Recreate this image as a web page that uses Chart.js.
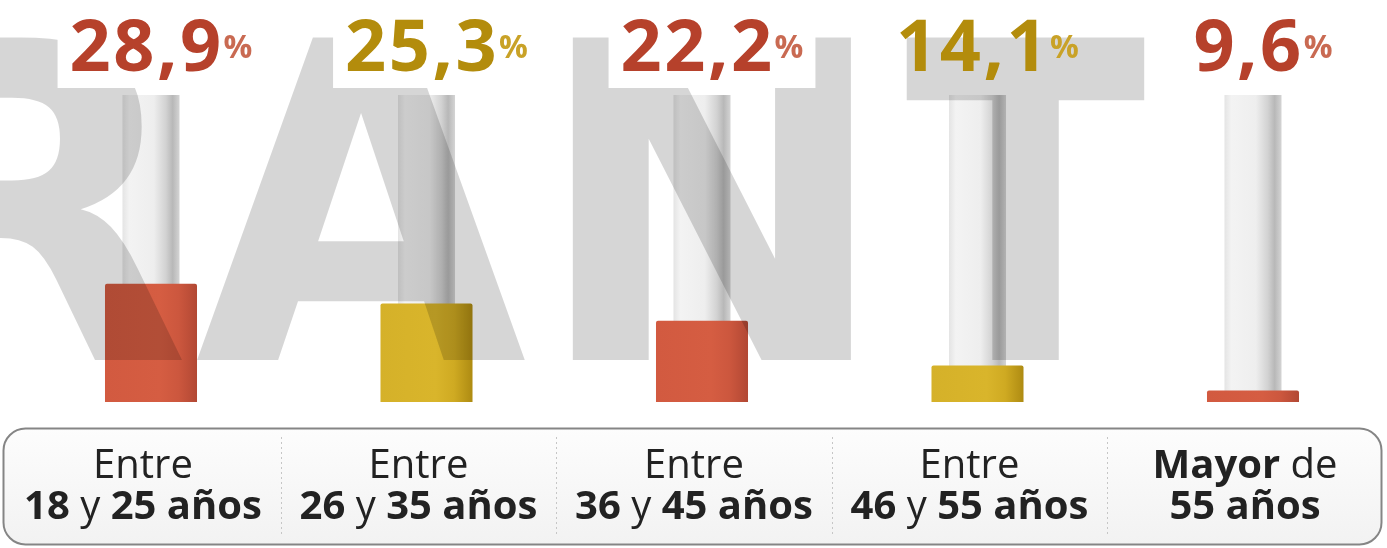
<!DOCTYPE html>
<html>
<head>
<meta charset="utf-8">
<script src="https://cdn.jsdelivr.net/npm/chart.js@4/dist/chart.umd.min.js"></script>
<style>
  html, body { margin: 0; padding: 0; background: #ffffff; overflow: hidden; }
  #wrap { position: relative; width: 1400px; height: 548px; }
</style>
</head>
<body>
<div id="wrap"><canvas id="chart"></canvas></div>
<script>
// Age groups (two text lines each)
const categories = [
  ['Entre', '18 y 25 años'],
  ['Entre', '26 y 35 años'],
  ['Entre', '36 y 45 años'],
  ['Entre', '46 y 55 años'],
  ['Mayor de', '55 años']
];
// Share of each age group, in percent
const shares = [28.9, 25.3, 22.2, 14.1, 9.6];
// Value axis range; the grey tubes run up to the top of it
const scaleMin = 7.5;
const scaleMax = 63;
const tubeTop = [63, 63, 63, 63, 63];

// ---- styling ----
const tones = ['red', 'gold', 'red', 'gold', 'red'];
const palette = {
  red:  { bar: ['#d25a40', '#d55d42', '#cc573e', '#b24834'], num: '#b6412b', pct: '#c96a52' },
  gold: { bar: ['#d5b129', '#d9b52b', '#cfaa22', '#ae8b12'], num: '#b38c0c', pct: '#c9a227' }
};
const backdrop = [true, true, true, false, true];
const normalWords = new Set(['Entre', 'y', 'de']);
const UI_FONT = '"Open Sans", "Noto Sans", sans-serif';

function columnCenter(chart, i) {
  const xs = chart.scales && chart.scales.x;
  if (!xs) return NaN;
  return xs.getPixelForValue(i);
}

function barFill(ctx) {
  const i = ctx.dataIndex;
  if (i === undefined) return palette.red.bar[0];
  const c = palette[tones[i]].bar;
  const x = columnCenter(ctx.chart, i);
  if (!isFinite(x)) return c[1];
  const g = ctx.chart.ctx.createLinearGradient(x - 46, 0, x + 46, 0);
  g.addColorStop(0, c[0]);
  g.addColorStop(0.6, c[1]);
  g.addColorStop(0.8, c[2]);
  g.addColorStop(1, c[3]);
  return g;
}

function tubeFill(ctx) {
  const i = ctx.dataIndex;
  if (i === undefined) return '#eeeeee';
  const x = columnCenter(ctx.chart, i);
  if (!isFinite(x)) return '#eeeeee';
  const g = ctx.chart.ctx.createLinearGradient(x - 28.5, 0, x + 28.5, 0);
  g.addColorStop(0, '#e4e4e4');
  g.addColorStop(0.12, '#f3f3f3');
  g.addColorStop(0.55, '#eeeeee');
  g.addColorStop(0.76, '#d2d2d2');
  g.addColorStop(0.88, '#b8b8b8');
  g.addColorStop(1, '#d4d4d4');
  return g;
}

// Large translucent lettering laid over the plot
const watermarkPlugin = {
  id: 'watermark',
  afterDatasetsDraw(chart) {
    const ctx = chart.ctx;
    const letters = [
      { ch: 'R', l: -110, r: 182 },
      { ch: 'A', l: 195, r: 530 },
      { ch: 'N', l: 567, r: 853 },
      { ch: 'T', l: 905, r: 1148 }
    ];
    const top = 35, base = 360;
    ctx.save();
    ctx.font = 'bold 400px "DejaVu Sans", sans-serif';
    ctx.textBaseline = 'alphabetic';
    ctx.textAlign = 'left';
    ctx.fillStyle = 'rgba(0,0,0,0.16)';
    const capH = ctx.measureText('H').actualBoundingBoxAscent;
    const sy = (base - top) / capH;
    letters.forEach(L => {
      const m = ctx.measureText(L.ch);
      const w = m.actualBoundingBoxLeft + m.actualBoundingBoxRight;
      const sx = (L.r - L.l) / w;
      ctx.save();
      ctx.translate(L.l, base);
      ctx.scale(sx, sy);
      ctx.fillText(L.ch, m.actualBoundingBoxLeft, 0);
      ctx.restore();
    });
    ctx.restore();
  }
};

// Percentage labels above each column
const valueLabelPlugin = {
  id: 'valueLabels',
  afterDatasetsDraw(chart) {
    const ctx = chart.ctx;
    const meta = chart.getDatasetMeta(0);
    ctx.save();
    ctx.textBaseline = 'alphabetic';
    ctx.textAlign = 'left';
    meta.data.forEach((bar, i) => {
      const txt = shares[i].toFixed(1).replace('.', ',');
      const col = palette[tones[i]];
      ctx.letterSpacing = '2.5px';
      ctx.font = 'bold 72px ' + UI_FONT;
      const wn = ctx.measureText(txt).width;
      ctx.letterSpacing = '0px';
      ctx.font = 'bold 32px ' + UI_FONT;
      const wp = ctx.measureText('%').width;
      const gap = 0;
      const total = wn + gap + wp;
      const left = bar.x + 10 - total / 2;
      if (backdrop[i]) {
        ctx.fillStyle = '#ffffff';
        ctx.fillRect(left - 12, 0, total + 24, 88);
      }
      ctx.letterSpacing = '2.5px';
      ctx.font = 'bold 72px ' + UI_FONT;
      ctx.fillStyle = col.num;
      ctx.fillText(txt, left, 71);
      ctx.letterSpacing = '0px';
      ctx.font = 'bold 32px ' + UI_FONT;
      ctx.fillStyle = col.pct;
      ctx.fillText('%', left + wn + gap, 58);
    });
    ctx.restore();
  }
};

// Rounded panel with the age-group names under the columns
const categoryPanelPlugin = {
  id: 'categoryPanel',
  afterDraw(chart) {
    const ctx = chart.ctx;
    const centers = categories.map((_, i) => columnCenter(chart, i) - 8);
    ctx.save();
    // panel
    const g = ctx.createLinearGradient(0, 428, 0, 545);
    g.addColorStop(0, '#fdfdfd');
    g.addColorStop(1, '#f2f2f2');
    ctx.beginPath();
    ctx.roundRect(3.5, 428.5, 1378, 116, 22);
    ctx.fillStyle = g;
    ctx.fill();
    ctx.lineWidth = 2;
    ctx.strokeStyle = '#858585';
    ctx.stroke();
    // dotted dividers
    ctx.setLineDash([2, 3]);
    ctx.lineWidth = 1;
    ctx.strokeStyle = '#c6c6c6';
    for (let i = 0; i < centers.length - 1; i++) {
      const x = Math.round((centers[i] + centers[i + 1]) / 2) + 0.5;
      ctx.beginPath();
      ctx.moveTo(x, 437);
      ctx.lineTo(x, 537);
      ctx.stroke();
    }
    ctx.setLineDash([]);
    // names
    ctx.fillStyle = '#222222';
    ctx.textBaseline = 'alphabetic';
    ctx.textAlign = 'left';
    const baselines = [478, 519];
    const fontFor = w => (normalWords.has(w) ? '' : 'bold ') + '40px ' + UI_FONT;
    categories.forEach((lines, i) => {
      lines.forEach((line, j) => {
        const words = line.split(' ');
        ctx.font = '40px ' + UI_FONT;
        const sp = ctx.measureText(' ').width;
        const widths = words.map(w => { ctx.font = fontFor(w); return ctx.measureText(w).width; });
        const total = widths.reduce((a, b) => a + b, 0) + sp * (words.length - 1);
        let x = centers[i] - total / 2;
        words.forEach((w, k) => {
          ctx.font = fontFor(w);
          ctx.fillText(w, x, baselines[j]);
          x += widths[k] + sp;
        });
      });
    });
    ctx.restore();
  }
};

function build() {
  new Chart(document.getElementById('chart'), {
    type: 'bar',
    data: {
      labels: categories,
      datasets: [
        {
          data: shares,
          base: scaleMin,
          grouped: false,
          barPercentage: 0.334,
          categoryPercentage: 1,
          backgroundColor: barFill,
          borderRadius: 2,
          borderSkipped: 'bottom'
        },
        {
          data: tubeTop,
          base: scaleMin,
          grouped: false,
          barPercentage: 0.207,
          categoryPercentage: 1,
          backgroundColor: tubeFill
        }
      ]
    },
    options: {
      responsive: true,
      maintainAspectRatio: false,
      animation: false,
      layout: { padding: { left: 13.25, right: 9.25, top: 95, bottom: 146 } },
      scales: {
        x: { display: false },
        y: { display: false, min: scaleMin, max: scaleMax }
      },
      plugins: { legend: { display: false }, tooltip: { enabled: false } }
    },
    plugins: [watermarkPlugin, valueLabelPlugin, categoryPanelPlugin]
  });
}

Promise.all([
  document.fonts.load('bold 72px "Open Sans"'),
  document.fonts.load('40px "Open Sans"'),
  document.fonts.load('bold 400px "DejaVu Sans"')
]).then(build, build);
</script>
</body>
</html>
